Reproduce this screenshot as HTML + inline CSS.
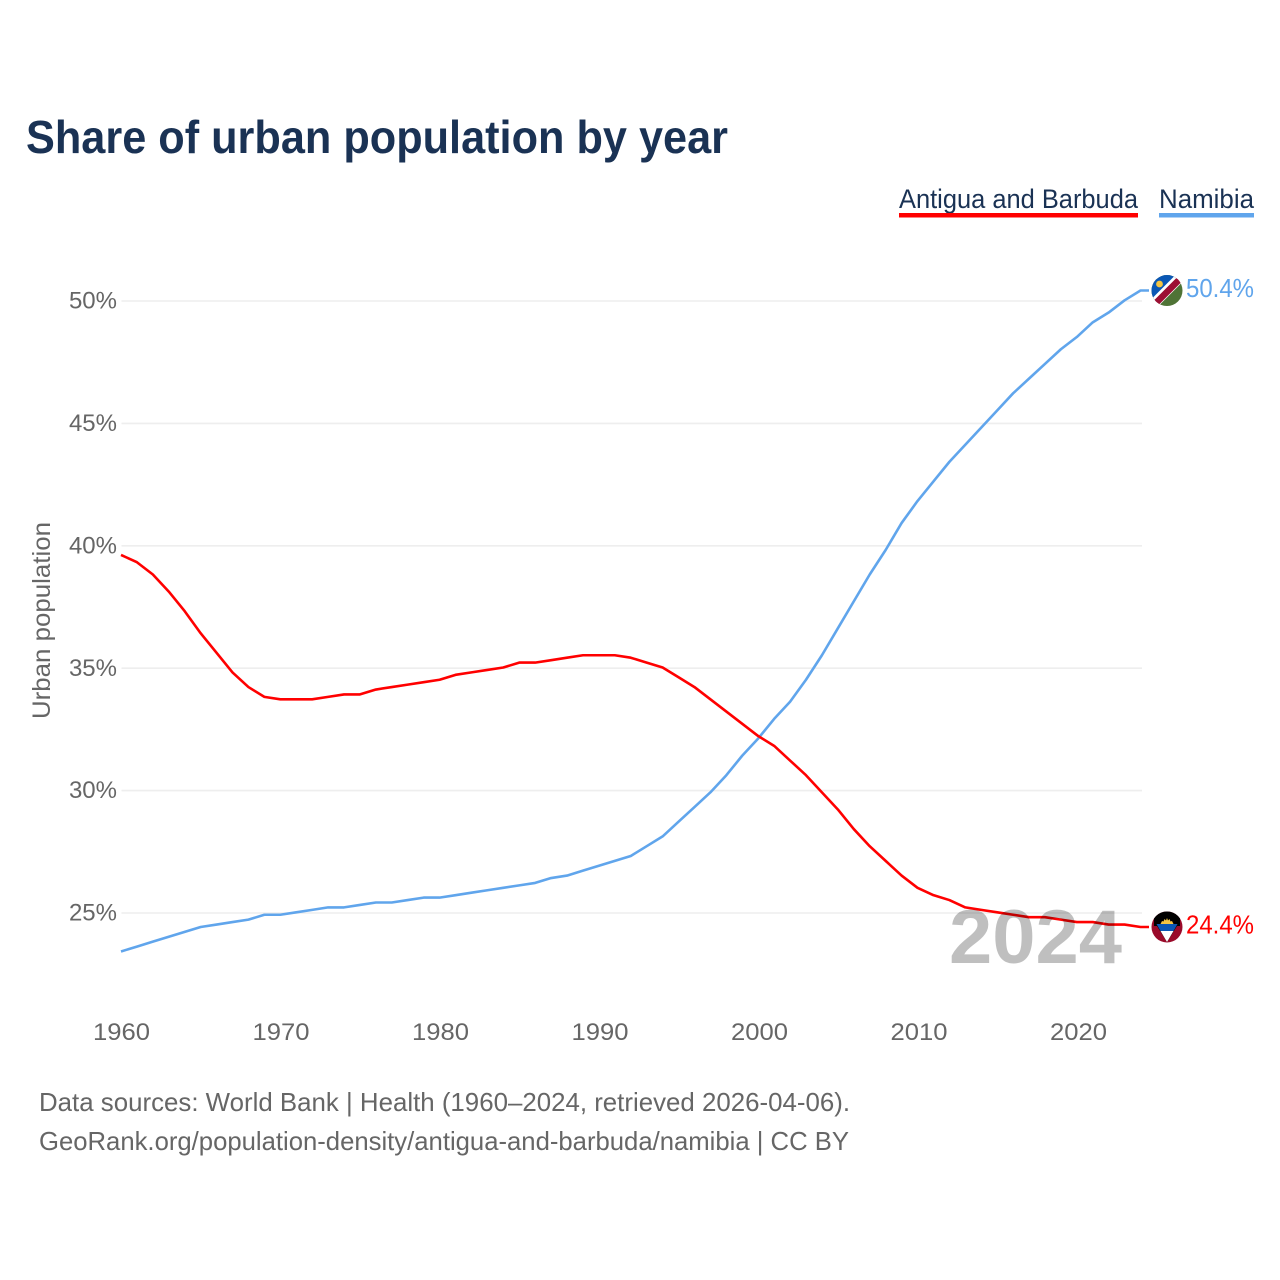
<!DOCTYPE html>
<html>
<head>
<meta charset="utf-8">
<title>Share of urban population by year</title>
<style>
html,body{margin:0;padding:0;background:#fff;width:1280px;height:1280px;overflow:hidden}
svg{display:block}
text{font-family:"Liberation Sans",sans-serif}
</style>
</head>
<body>
<svg id="chart" xmlns="http://www.w3.org/2000/svg" width="1280" height="1280" viewBox="0 0 1280 1280">
  <rect x="0" y="0" width="1280" height="1280" fill="#fff"/>
  <text x="26" y="153" font-size="46" font-weight="700" fill="#1a3254" textLength="702" lengthAdjust="spacingAndGlyphs">Share of urban population by year</text>

  <g>
    <text x="899" y="208" font-size="27" fill="#1a3254" textLength="239" lengthAdjust="spacingAndGlyphs">Antigua and Barbuda</text>
    <rect x="899" y="213" width="239" height="4.5" fill="#ff0000"/>
  </g>
  <g>
    <text x="1159" y="208" font-size="27" fill="#1a3254" textLength="95" lengthAdjust="spacingAndGlyphs">Namibia</text>
    <rect x="1159" y="213" width="95" height="4.5" fill="#60a5ec"/>
  </g>

  <text transform="translate(50,719) rotate(-90)" x="0" y="0" font-size="25" fill="#666" textLength="197" lengthAdjust="spacingAndGlyphs">Urban population</text>

  <g id="grid"></g>
  <g id="yticks"></g>
  <g id="xticks"></g>
  <g id="series"></g>

  <text x="1122" y="963" text-anchor="end" font-size="76" font-weight="700" fill="#000" fill-opacity="0.25" textLength="173" lengthAdjust="spacingAndGlyphs">2024</text>

  <defs>
    <clipPath id="clip-flag"><circle cx="0" cy="0" r="15.5"/></clipPath>
  </defs>

  <g id="flag-namibia">
    <g clip-path="url(#clip-flag)">
      <rect x="-16" y="-16" width="32" height="32" fill="#4f7336"/>
      <polygon points="-16,-16 16,-16 -16,16" fill="#0a57b5"/>
      <polygon points="9,-16 16,-16 16,-9 -9,16 -16,16 -16,9" fill="#fff"/>
      <polygon points="13,-16 16,-13 -13,16 -16,13" fill="#9c0f33"/>
      <polygon points="16,-13.5 16,-10 -10,16 -13.5,16" fill="#9c0f33"/>
      <polygon points="11,-14 14,-11 -11,14 -14,11" fill="#9c0f33"/>
      <circle cx="-7.5" cy="-6.5" r="3.4" fill="#f5c542"/>
    </g>
  </g>

  <g id="flag-antigua">
    <g clip-path="url(#clip-flag)">
      <rect x="-16" y="-16" width="32" height="32" fill="#9a0a2a"/>
      <polygon points="-13,-16 13,-16 13,-1 10,-1 0,15 -10,-1 -13,-1" fill="#000"/>
      <polygon points="-10.5,-3 10.5,-3 6.5,4 -6.5,4" fill="#0a57b5"/>
      <polygon points="-6.5,4 6.5,4 0,15" fill="#fff"/>
      <polygon points="-6.5,-3 -5,-6 -3.5,-5.5 -2.5,-8 -1,-6.5 0,-9 1,-6.5 2.5,-8 3.5,-5.5 5,-6 6.5,-3" fill="#f5c542"/>
    </g>
  </g>

  <text id="value-namibia" x="1254" text-anchor="end" font-size="26" fill="#60a5ec" textLength="68" lengthAdjust="spacingAndGlyphs"></text>
  <text id="value-antigua" x="1254" text-anchor="end" font-size="26" fill="#ff0000" textLength="68" lengthAdjust="spacingAndGlyphs"></text>

  <text x="39" y="1111" font-size="26" fill="#666" textLength="811" lengthAdjust="spacingAndGlyphs">Data sources: World Bank | Health (1960–2024, retrieved 2026-04-06).</text>
  <text x="39" y="1150" font-size="26" fill="#666" textLength="810" lengthAdjust="spacingAndGlyphs">GeoRank.org/population-density/antigua-and-barbuda/namibia | CC BY</text>
</svg>

<script>
const startYear = 1960;
const yTickValues = [25, 30, 35, 40, 45, 50];
const xTickValues = [1960, 1970, 1980, 1990, 2000, 2010, 2020];
const antiguaValues = [39.6,39.3,38.8,38.1,37.3,36.4,35.6,34.8,34.2,33.8,33.7,33.7,33.7,33.8,33.9,33.9,34.1,34.2,34.3,34.4,34.5,34.7,34.8,34.9,35.0,35.2,35.2,35.3,35.4,35.5,35.5,35.5,35.4,35.2,35.0,34.6,34.2,33.7,33.2,32.7,32.2,31.8,31.2,30.6,29.9,29.2,28.4,27.7,27.1,26.5,26.0,25.7,25.5,25.2,25.1,25.0,24.9,24.8,24.8,24.7,24.6,24.6,24.5,24.5,24.4];
const namibiaValues = [23.4,23.6,23.8,24.0,24.2,24.4,24.5,24.6,24.7,24.9,24.9,25.0,25.1,25.2,25.2,25.3,25.4,25.4,25.5,25.6,25.6,25.7,25.8,25.9,26.0,26.1,26.2,26.4,26.5,26.7,26.9,27.1,27.3,27.7,28.1,28.7,29.3,29.9,30.6,31.4,32.1,32.9,33.6,34.5,35.5,36.6,37.7,38.8,39.8,40.9,41.8,42.6,43.4,44.1,44.8,45.5,46.2,46.8,47.4,48.0,48.5,49.1,49.5,50.0,50.4];

const NS = 'http://www.w3.org/2000/svg';
const plotLeft = 121;
const pxPerYear = 15.93;
const y50 = 300.3;
const pxPerPct = 24.48;
function xScale(year) { return plotLeft + (year - startYear) * pxPerYear; }
function yScale(pct) { return y50 + (50 - pct) * pxPerPct; }
function gridY(pct) { return yScale(pct) + 0.7; }
function tickX(year) { return 121.5 + (year - startYear) * 15.95; }

const gridG = document.getElementById('grid');
const yTickG = document.getElementById('yticks');
const xTickG = document.getElementById('xticks');
const seriesG = document.getElementById('series');

yTickValues.forEach(function (v) {
  const line = document.createElementNS(NS, 'line');
  
  
  line.setAttribute('x1', 121.5);
  line.setAttribute('x2', 1142);
  line.setAttribute('y1', gridY(v));
  line.setAttribute('y2', gridY(v));
  line.setAttribute('stroke', '#eeeeee');
  line.setAttribute('stroke-width', '1.6');
  gridG.appendChild(line);

  const label = document.createElementNS(NS, 'text');
  
  
  label.setAttribute('x', 117);
  label.setAttribute('y', gridY(v) + 7.6);
  label.setAttribute('text-anchor', 'end');
  label.setAttribute('font-size', '24');
  label.setAttribute('fill', '#666');
  label.textContent = v + '%';
  yTickG.appendChild(label);
});

xTickValues.forEach(function (year) {
  const label = document.createElementNS(NS, 'text');
  
  
  label.setAttribute('x', tickX(year));
  label.setAttribute('y', 1040);
  label.setAttribute('text-anchor', 'middle');
  label.setAttribute('font-size', '24');
  label.setAttribute('fill', '#666');
  label.setAttribute('textLength', '57');
  label.setAttribute('lengthAdjust', 'spacingAndGlyphs');
  label.textContent = year;
  xTickG.appendChild(label);
});

function pathFor(values) {
  const pts = values.map(function (v, i) {
    return xScale(startYear + i).toFixed(2) + ',' + yScale(v).toFixed(2);
  });
  const lastY = yScale(values[values.length - 1]).toFixed(2);
  pts.push('1149,' + lastY);
  return 'M' + pts.join('L');
}

const namibiaLine = document.createElementNS(NS, 'path');


namibiaLine.setAttribute('d', pathFor(namibiaValues));
namibiaLine.setAttribute('fill', 'none');
namibiaLine.setAttribute('stroke', '#60a5ec');
namibiaLine.setAttribute('stroke-width', '2.6');
namibiaLine.setAttribute('stroke-linejoin', 'round');
seriesG.appendChild(namibiaLine);

const antiguaLine = document.createElementNS(NS, 'path');


antiguaLine.setAttribute('d', pathFor(antiguaValues));
antiguaLine.setAttribute('fill', 'none');
antiguaLine.setAttribute('stroke', '#ff0000');
antiguaLine.setAttribute('stroke-width', '2.6');
antiguaLine.setAttribute('stroke-linejoin', 'round');
seriesG.appendChild(antiguaLine);

const lastNamibia = namibiaValues[namibiaValues.length - 1];
const lastAntigua = antiguaValues[antiguaValues.length - 1];
document.getElementById('flag-namibia').setAttribute('transform', 'translate(1167,' + yScale(lastNamibia).toFixed(2) + ')');
document.getElementById('flag-antigua').setAttribute('transform', 'translate(1167,' + yScale(lastAntigua).toFixed(2) + ')');
const valueNamibia = document.getElementById('value-namibia');
valueNamibia.setAttribute('y', yScale(lastNamibia) + 6.3);
valueNamibia.textContent = lastNamibia.toFixed(1) + '%';
const valueAntigua = document.getElementById('value-antigua');
valueAntigua.setAttribute('y', yScale(lastAntigua) + 6.3);
valueAntigua.textContent = lastAntigua.toFixed(1) + '%';
</script>
</body>
</html>
